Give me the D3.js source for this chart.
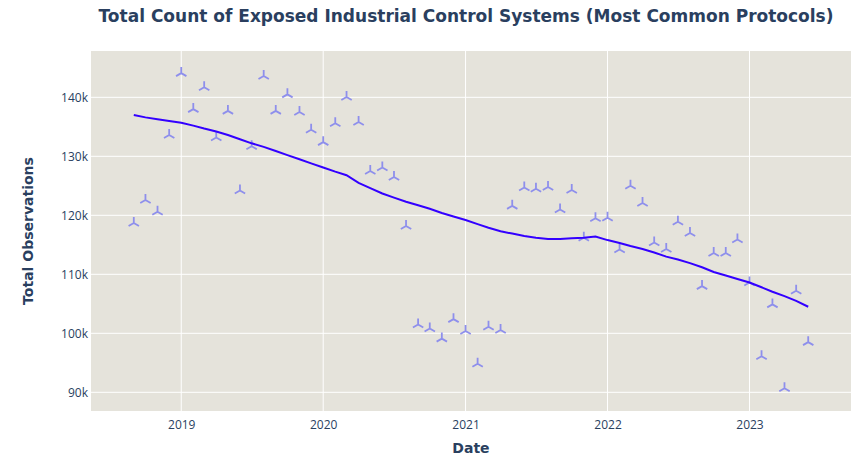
<!DOCTYPE html>
<html>
<head>
<meta charset="utf-8">
<script src="https://cdn.jsdelivr.net/npm/d3@7"></script>
<style>
  body { margin: 0; background: #fff; }
  svg { display: block; }
</style>
</head>
<body>
<svg id="chart" width="864" height="460"></svg>
<script>
// ---- data ----
const months = [
  "2018-09","2018-10","2018-11","2018-12",
  "2019-01","2019-02","2019-03","2019-04","2019-05","2019-06","2019-07","2019-08","2019-09","2019-10","2019-11","2019-12",
  "2020-01","2020-02","2020-03","2020-04","2020-05","2020-06","2020-07","2020-08","2020-09","2020-10","2020-11","2020-12",
  "2021-01","2021-02","2021-03","2021-04","2021-05","2021-06","2021-07","2021-08","2021-09","2021-10","2021-11","2021-12",
  "2022-01","2022-02","2022-03","2022-04","2022-05","2022-06","2022-07","2022-08","2022-09","2022-10","2022-11","2022-12",
  "2023-01","2023-02","2023-03","2023-04","2023-05","2023-06"];

const observations = [
  118700,122600,120600,133600,
  144100,138000,141700,133200,137700,124200,131700,143600,137700,140500,137500,134500,
  132400,135600,140050,135800,127500,128100,126500,118200,101500,100800,99100,102400,
  100400,94850,101100,100550,121600,124700,124500,124800,121000,124300,116200,119500,
  119600,114200,125000,122100,115400,114300,118900,117000,108000,113600,113600,115900,
  108600,96100,104900,90700,107200,98500];

const trend = [
  137000,136600,136300,136000,
  135700,135200,134700,134200,133600,132900,132200,131600,130900,130200,129500,128800,
  128100,127400,126800,125500,124600,123700,123000,122300,121700,121100,120400,119800,
  119200,118500,117900,117300,116900,116500,116200,116000,116000,116100,116200,116400,
  115800,115300,114800,114300,113700,113000,112500,111900,111200,110400,109800,109200,
  108600,107800,107050,106300,105500,104500];

const xTickLabels = ["2019","2020","2021","2022","2023"];
const yTickValues = [90000,100000,110000,120000,130000,140000];

const title = "Total Count of Exposed Industrial Control Systems (Most Common Protocols)";
const xTitle = "Date";
const yTitle = "Total Observations";

// ---- drawing ----
const svg = d3.select("#chart");
const plot = {left: 91, top: 51, right: 851, bottom: 411};
const textColor = "#2a3f5f";
const font = "'Open Sans', Verdana, Arial, sans-serif";

const parse = d3.timeParse("%Y-%m");
const dates = months.map(parse);

const x = d3.scaleTime()
  .domain([new Date(2018, 4, 14), new Date(2023, 8, 19)])
  .range([plot.left, plot.right]);
const y = d3.scaleLinear()
  .domain([86830, 147850])
  .range([plot.bottom, plot.top]);

svg.append("rect")
  .attr("x", plot.left).attr("y", plot.top)
  .attr("width", plot.right - plot.left).attr("height", plot.bottom - plot.top)
  .attr("fill", "#e5e3db");

const xTicks = xTickLabels.map(s => d3.timeParse("%Y")(s));

// grid
svg.append("g").selectAll("line").data(yTickValues).join("line")
  .attr("x1", plot.left).attr("x2", plot.right)
  .attr("y1", d => y(d)).attr("y2", d => y(d))
  .attr("stroke", "#fff").attr("stroke-width", 1);
svg.append("g").selectAll("line").data(xTicks).join("line")
  .attr("y1", plot.top).attr("y2", plot.bottom)
  .attr("x1", d => x(d)).attr("x2", d => x(d))
  .attr("stroke", "#fff").attr("stroke-width", 1);

// axes
const xAxis = d3.axisBottom(x).tickValues(xTicks).tickFormat(d3.timeFormat("%Y")).tickSize(0).tickPadding(9);
const gx = svg.append("g").attr("transform", `translate(0,${plot.bottom})`).call(xAxis);
const yAxis = d3.axisLeft(y).tickValues(yTickValues).tickFormat(d => (d/1000) + "k").tickSize(0).tickPadding(3);
const gy = svg.append("g").attr("transform", `translate(${plot.left},0)`).call(yAxis);
[gx, gy].forEach(g => {
  g.select(".domain").remove();
  g.selectAll("text").attr("fill", textColor).style("font-family", font).style("font-size", "12px");
});

// markers (y-up)
const r = 6;
const ySym = `M0,0 L0,${-r} M0,0 L${(r*0.866).toFixed(2)},${r/2} M0,0 L${(-r*0.866).toFixed(2)},${r/2}`;
svg.append("g").selectAll("path").data(observations).join("path")
  .attr("d", ySym)
  .attr("transform", (d, i) => `translate(${x(dates[i])},${y(d)})`)
  .attr("fill", "none")
  .attr("stroke", "#8e8fec")
  .attr("stroke-width", 1.8);

// trend line
const line = d3.line().x((d, i) => x(dates[i])).y(d => y(d));
svg.append("path").datum(trend)
  .attr("d", line)
  .attr("fill", "none")
  .attr("stroke", "#3300ff")
  .attr("stroke-width", 2);

// titles
svg.append("text")
  .attr("x", 466).attr("y", 22)
  .attr("text-anchor", "middle")
  .attr("fill", textColor)
  .style("font-family", "'DejaVu Sans', Verdana, sans-serif")
  .style("font-weight", "bold")
  .style("font-size", "17px")
  .text(title);

svg.append("text")
  .attr("x", (plot.left + plot.right) / 2).attr("y", 453)
  .attr("text-anchor", "middle")
  .attr("fill", textColor)
  .style("font-family", "'DejaVu Sans', Verdana, sans-serif")
  .style("font-weight", "bold")
  .style("font-size", "14px")
  .text(xTitle);

svg.append("text")
  .attr("transform", `translate(33,${(plot.top + plot.bottom) / 2}) rotate(-90)`)
  .attr("text-anchor", "middle")
  .attr("fill", textColor)
  .style("font-family", "'DejaVu Sans', Verdana, sans-serif")
  .style("font-weight", "bold")
  .style("font-size", "14px")
  .text(yTitle);
</script>
</body>
</html>
